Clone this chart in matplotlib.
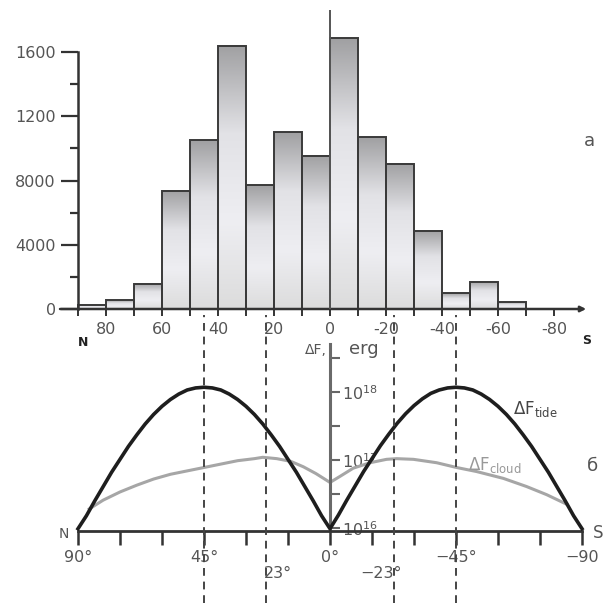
import numpy as np
import matplotlib
matplotlib.use("Agg")
import matplotlib.pyplot as plt
from matplotlib.colors import LinearSegmentedColormap

#########################################################
# DATA
#########################################################

# histogram: latitude bins (centre, degrees) and counts
bin_lat = [85, 75, 65, 55, 45, 35, 25, 15, 5, -5, -15, -25, -35, -45, -55, -65]
counts = [25, 56, 156, 735, 1052, 1640, 772, 1100, 953, 1687, 1071, 903, 486, 97, 170, 42]

hist_yticks = [0, 400, 800, 1200, 1600]
hist_yticklabels = ["0", "4000", "8000", "1200", "1600"]
hist_xticks = [80, 60, 40, 20, 0, -20, -40, -60, -80]
hist_xticklabels = ["80", "60", "40", "20", "0", "-20", "-40", "-60", "-80"]

# energy curves, log10(dF / erg) versus latitude
tide_lat = [90, 87, 84, 81, 78, 75, 72, 69, 66, 63, 60, 57, 54, 51, 48, 45,
            42, 39, 36, 33, 30, 27, 24, 21, 18, 15, 12, 9, 6, 3, 0,
            -3, -6, -9, -12, -15, -18, -21, -24, -27, -30, -33, -36, -39, -42, -45,
            -48, -51, -54, -57, -60, -63, -66, -69, -72, -75, -78, -81, -84, -87, -90]
tide_log = [15.99, 16.18, 16.40, 16.61, 16.82, 17.01, 17.20, 17.37, 17.53, 17.67,
            17.79, 17.89, 17.97, 18.03, 18.06, 18.07,
            18.06, 18.03, 17.97, 17.89, 17.79, 17.67, 17.53, 17.37, 17.20, 17.01,
            16.82, 16.61, 16.40, 16.18, 15.99,
            16.19, 16.41, 16.62, 16.83, 17.02, 17.21, 17.38, 17.54, 17.68, 17.80,
            17.90, 17.98, 18.03, 18.06, 18.07,
            18.06, 18.03, 17.97, 17.89, 17.79, 17.67, 17.53, 17.37, 17.20, 17.01,
            16.82, 16.61, 16.40, 16.18, 15.99]

cloud_lat = [86, 81, 75, 69, 63, 57, 51, 45, 39, 33, 27, 24, 19, 14, 9.5, 5, 0,
             -3.6, -8.3, -14.3, -20.2, -23.8, -29.8, -38.1, -45.2, -52.4, -61.9,
             -70.2, -77.4, -84.5]
cloud_log = [16.28, 16.41, 16.53, 16.63, 16.72, 16.79, 16.84, 16.89, 16.94, 16.99,
             17.02, 17.04, 17.02, 16.98, 16.90, 16.80, 16.67,
             16.76, 16.88, 16.96, 17.01, 17.02, 17.01, 16.96, 16.89, 16.83, 16.73,
             16.61, 16.49, 16.35]

energy_yticks = [16, 17, 18]
energy_yticklabels = [r"$10^{16}$", r"$10^{17}$", r"$10^{18}$"]
energy_xticks = [90, 45, 0, -45, -90]
energy_xticklabels = ["90°", "45°", "0°", "−45°", "−90"]

marked_lat = [45, 23, -23, -45]

#########################################################
# FIGURE
#########################################################

W, H = 610, 603
fig = plt.figure(figsize=(W / 100, H / 100), dpi=100)


def fpos(x, y):
    # pixel position (from top-left) -> figure fraction
    return x / W, 1 - y / H


xlim = (96.43, -92.86)
text_col = "#555555"
line_col = "#333333"

#########################################################
# TOP PANEL (histogram)
#########################################################

ax1 = fig.add_axes([60 / W, (H - 309) / H, 530 / W, 299 / H])

grad = LinearSegmentedColormap.from_list(
    "bars", ["#dcdcdc", "#eeeef2", "#e2e2e6", "#a0a0a2"]
)
g = np.linspace(0, 1, 256).reshape(-1, 1)

for lat, c in zip(bin_lat, counts):
    ax1.imshow(g, cmap=grad, origin="lower", aspect="auto",
               extent=(lat + 5, lat - 5, 0, c), zorder=1)

ax1.bar(bin_lat, counts, width=10, facecolor="none",
        edgecolor="#3a3a3a", linewidth=1.4, zorder=2)

ax1.set_xlim(*xlim)
ax1.set_ylim(0, 1862)

for s in ["top", "right", "bottom"]:
    ax1.spines[s].set_visible(False)
ax1.spines["left"].set_position(("data", 90))
ax1.spines["left"].set_bounds(0, 1600)
ax1.spines["left"].set_linewidth(1.8)
ax1.spines["left"].set_color(line_col)

ax1.set_yticks(hist_yticks)
ax1.set_yticklabels(hist_yticklabels)
ax1.set_yticks([200, 600, 1000, 1400], minor=True)
ax1.tick_params(axis="y", which="major", length=12, width=1.6,
                color=line_col, labelsize=11.5, labelcolor=text_col, pad=4)
ax1.tick_params(axis="y", which="minor", length=6, width=1.6, color=line_col)

ax1.set_xticks(hist_xticks)
ax1.set_xticklabels(hist_xticklabels)
ax1.set_xticks(list(range(90, -90, -10)), minor=True)
ax1.tick_params(axis="x", which="both", length=5, width=1.4,
                color=line_col, labelsize=11.5, labelcolor=text_col, pad=4)

ax1.annotate("", xy=(-91.5, 0), xytext=(96.43, 0),
             arrowprops=dict(arrowstyle="-|>", color=line_col, lw=1.8,
                             mutation_scale=8, shrinkA=0, shrinkB=0),
             annotation_clip=False, zorder=3)

ax1.axvline(0, color="#555555", lw=1.4, zorder=3)

#########################################################
# BOTTOM PANEL (energy)
#########################################################

ax2 = fig.add_axes([60 / W, (H - 531) / H, 530 / W, 191 / H])

ax2.plot(cloud_lat, cloud_log, color="#a6a6a6", lw=2.2, zorder=2)
ax2.plot(tide_lat, tide_log, color="#1e1e1e", lw=2.6, zorder=3,
         solid_joinstyle="round")

ax2.set_xlim(*xlim)
ax2.set_ylim(15.956, 18.765)

ax2.spines["top"].set_visible(False)
ax2.spines["left"].set_visible(False)
ax2.spines["bottom"].set_bounds(90, -90)
ax2.spines["bottom"].set_linewidth(2.0)
ax2.spines["bottom"].set_color(line_col)
ax2.spines["right"].set_position(("data", 0))
ax2.spines["right"].set_bounds(15.956, 18.7)
ax2.spines["right"].set_linewidth(2.2)
ax2.spines["right"].set_color("#6a6a6a")

ax2.yaxis.tick_right()
ax2.set_yticks(energy_yticks)
ax2.set_yticklabels(energy_yticklabels)
ax2.set_yticks([16.5, 17.5, 18.5], minor=True)
ax2.tick_params(axis="y", which="both", direction="out", length=7, width=1.5,
                color="#666666", labelsize=11.5, labelcolor=text_col, pad=2)

ax2.set_xticks(energy_xticks)
ax2.set_xticklabels(energy_xticklabels)
ax2.set_xticks([75, 60, 30, 15, -15, -30, -60, -75], minor=True)
ax2.tick_params(axis="x", which="both", length=10, width=1.8,
                color=line_col, labelsize=11.5, labelcolor=text_col, pad=4)

for lat in marked_lat:
    ax2.axvline(lat, ymin=-0.377, ymax=1.131, clip_on=False,
                color="#444444", lw=1.4, dashes=(4, 3), zorder=4)

#########################################################
# LABELS
#########################################################

fig.text(*fpos(589, 141), "а", fontsize=13, color=text_col,
         ha="center", va="center")
fig.text(*fpos(592, 466), "б", fontsize=13, color=text_col,
         ha="center", va="center")

fig.text(*fpos(83, 342), "N", fontsize=9, color="#222222",
         fontweight="bold", ha="center", va="center")
fig.text(*fpos(587, 341), "S", fontsize=9, color="#222222",
         fontweight="bold", ha="center", va="center")

fig.text(*fpos(64, 534), "N", fontsize=10, color=text_col,
         ha="center", va="center")
fig.text(*fpos(598, 533), "S", fontsize=12, color=text_col,
         ha="center", va="center")

fig.text(*fpos(327, 350), "ΔF,", fontsize=10, color=text_col,
         ha="right", va="center")
fig.text(*fpos(349, 349), "erg", fontsize=13, color=text_col,
         ha="left", va="center")

fig.text(*fpos(513, 409), r"$\Delta\mathrm{F}_{\mathrm{tide}}$", fontsize=12,
         color="#444444", ha="left", va="center")
fig.text(*fpos(468, 465), r"$\Delta\mathrm{F}_{\mathrm{cloud}}$", fontsize=12,
         color="#999999", ha="left", va="center")

fig.text(*fpos(264, 573), "23°", fontsize=11.5, color=text_col,
         ha="left", va="center")
fig.text(*fpos(381, 573), "−23°", fontsize=11.5, color=text_col,
         ha="center", va="center")

fig.savefig("out.png", dpi=100)
plt.close(fig)
